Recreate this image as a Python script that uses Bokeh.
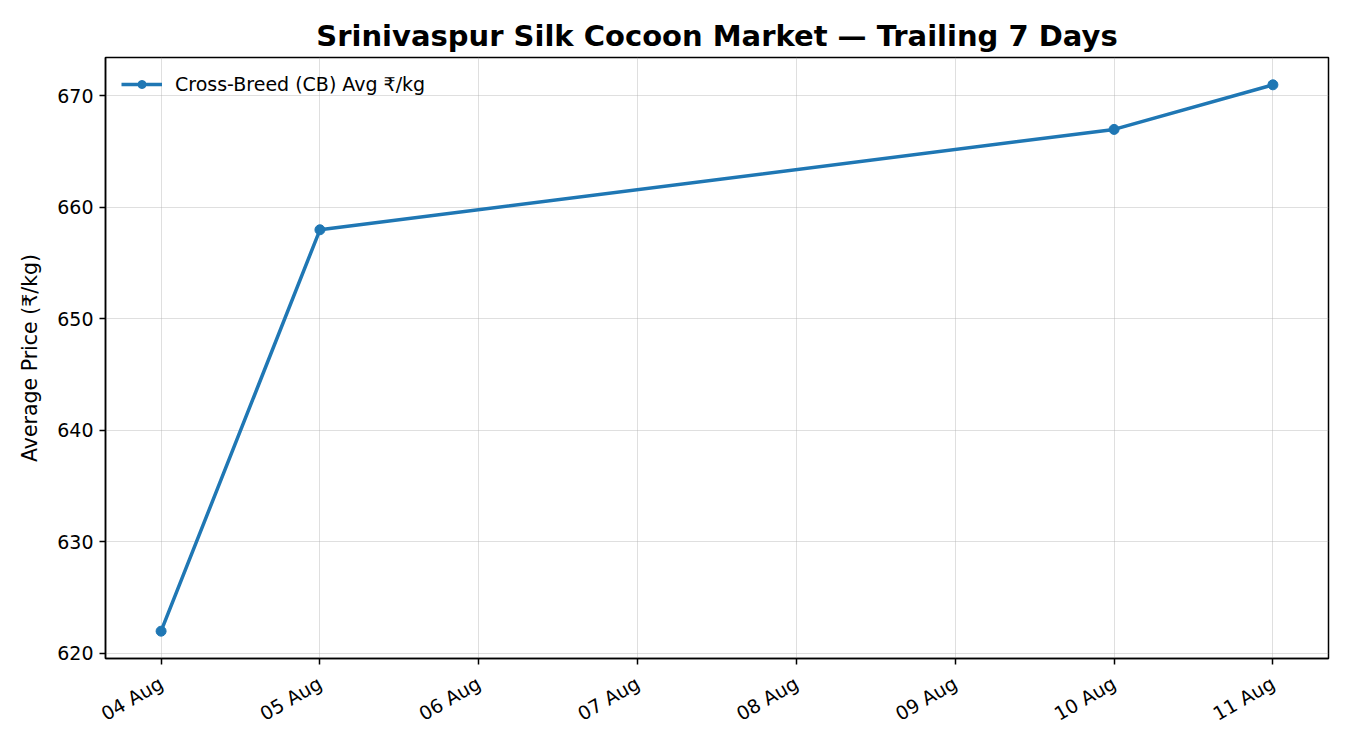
import math
import datetime as dt
from bokeh.plotting import figure
from bokeh.models import FixedTicker, DatetimeTickFormatter, Range1d, Legend, LegendItem
from bokeh.embed import file_html
from bokeh.resources import INLINE

# ---- data ----
dates = ["2025-08-04", "2025-08-05", "2025-08-10", "2025-08-11"]
prices = [622, 658, 667, 671]
tick_dates = ["2025-08-04", "2025-08-05", "2025-08-06", "2025-08-07",
              "2025-08-08", "2025-08-09", "2025-08-10", "2025-08-11"]
y_ticks = [620, 630, 640, 650, 660, 670]
series_label = "Cross-Breed (CB) Avg ₹/kg"
title_text = "Srinivaspur Silk Cocoon Market — Trailing 7 Days"
y_label = "Average Price (₹/kg)"

FONT = "DejaVu Sans"
COLOR = "#1f77b4"

def to_ms(s):
    d = dt.datetime.strptime(s, "%Y-%m-%d").replace(tzinfo=dt.timezone.utc)
    return d.timestamp() * 1000.0

xs = [to_ms(d) for d in dates]
x_span = max(xs) - min(xs)
y_span = max(prices) - min(prices)

p = figure(width=1342, height=742, x_axis_type="datetime",
           output_backend="svg", toolbar_location=None,
           x_range=Range1d(min(xs) - 0.05 * x_span, max(xs) + 0.05 * x_span),
           y_range=Range1d(min(prices) - 0.05 * y_span, max(prices) + 0.05 * y_span),
           min_border_left=105, min_border_right=14, min_border_bottom=84, min_border_top=57)

p.title.text = title_text
p.title.text_font = FONT
p.title.text_font_size = "29px"
p.title.text_font_style = "bold"
p.title.align = "center"
p.title.text_color = "black"

line = p.line(xs, prices, line_color=COLOR, line_width=3.5)
pts = p.scatter(xs, prices, size=10, fill_color=COLOR, line_color=COLOR)

legend = Legend(items=[LegendItem(label=series_label, renderers=[line, pts])],
                location="top_left", border_line_color=None,
                background_fill_alpha=0.0,
                label_text_font=FONT, label_text_font_size="19px",
                label_text_color="black",
                glyph_width=41, label_standoff=13, margin=16, padding=4)
p.add_layout(legend)

p.xaxis.ticker = FixedTicker(ticks=[to_ms(d) for d in tick_dates])
fmt = "%d %b"
p.xaxis.formatter = DatetimeTickFormatter(days=fmt, months=fmt, hours=fmt, years=fmt,
                                          hourmin=fmt, minutes=fmt, minsec=fmt, seconds=fmt)
p.xaxis.major_label_orientation = math.pi / 6
p.yaxis.ticker = FixedTicker(ticks=y_ticks)
p.yaxis.axis_label = y_label

for ax in (p.xaxis, p.yaxis):
    ax.major_label_text_font = FONT
    ax.major_label_text_font_size = "19px"
    ax.major_label_text_color = "black"
    ax.major_label_standoff = 6
    ax.axis_label_text_font = FONT
    ax.axis_label_text_font_size = "20.5px"
    ax.axis_label_text_font_style = "normal"
    ax.axis_label_text_color = "black"
    ax.axis_line_color = "black"
    ax.axis_line_width = 1.5
    ax.major_tick_line_color = "black"
    ax.major_tick_line_width = 1.5
    ax.major_tick_in = 0
    ax.major_tick_out = 6
    ax.minor_tick_line_color = None
p.xaxis.major_label_standoff = 17
p.yaxis.axis_label_standoff = 12

p.grid.grid_line_color = "#b0b0b0"
p.grid.grid_line_alpha = 0.4
p.outline_line_color = "black"
p.outline_line_width = 1.5
p.outline_line_alpha = 1.0

open("out.html", "w").write(file_html(p, INLINE))
